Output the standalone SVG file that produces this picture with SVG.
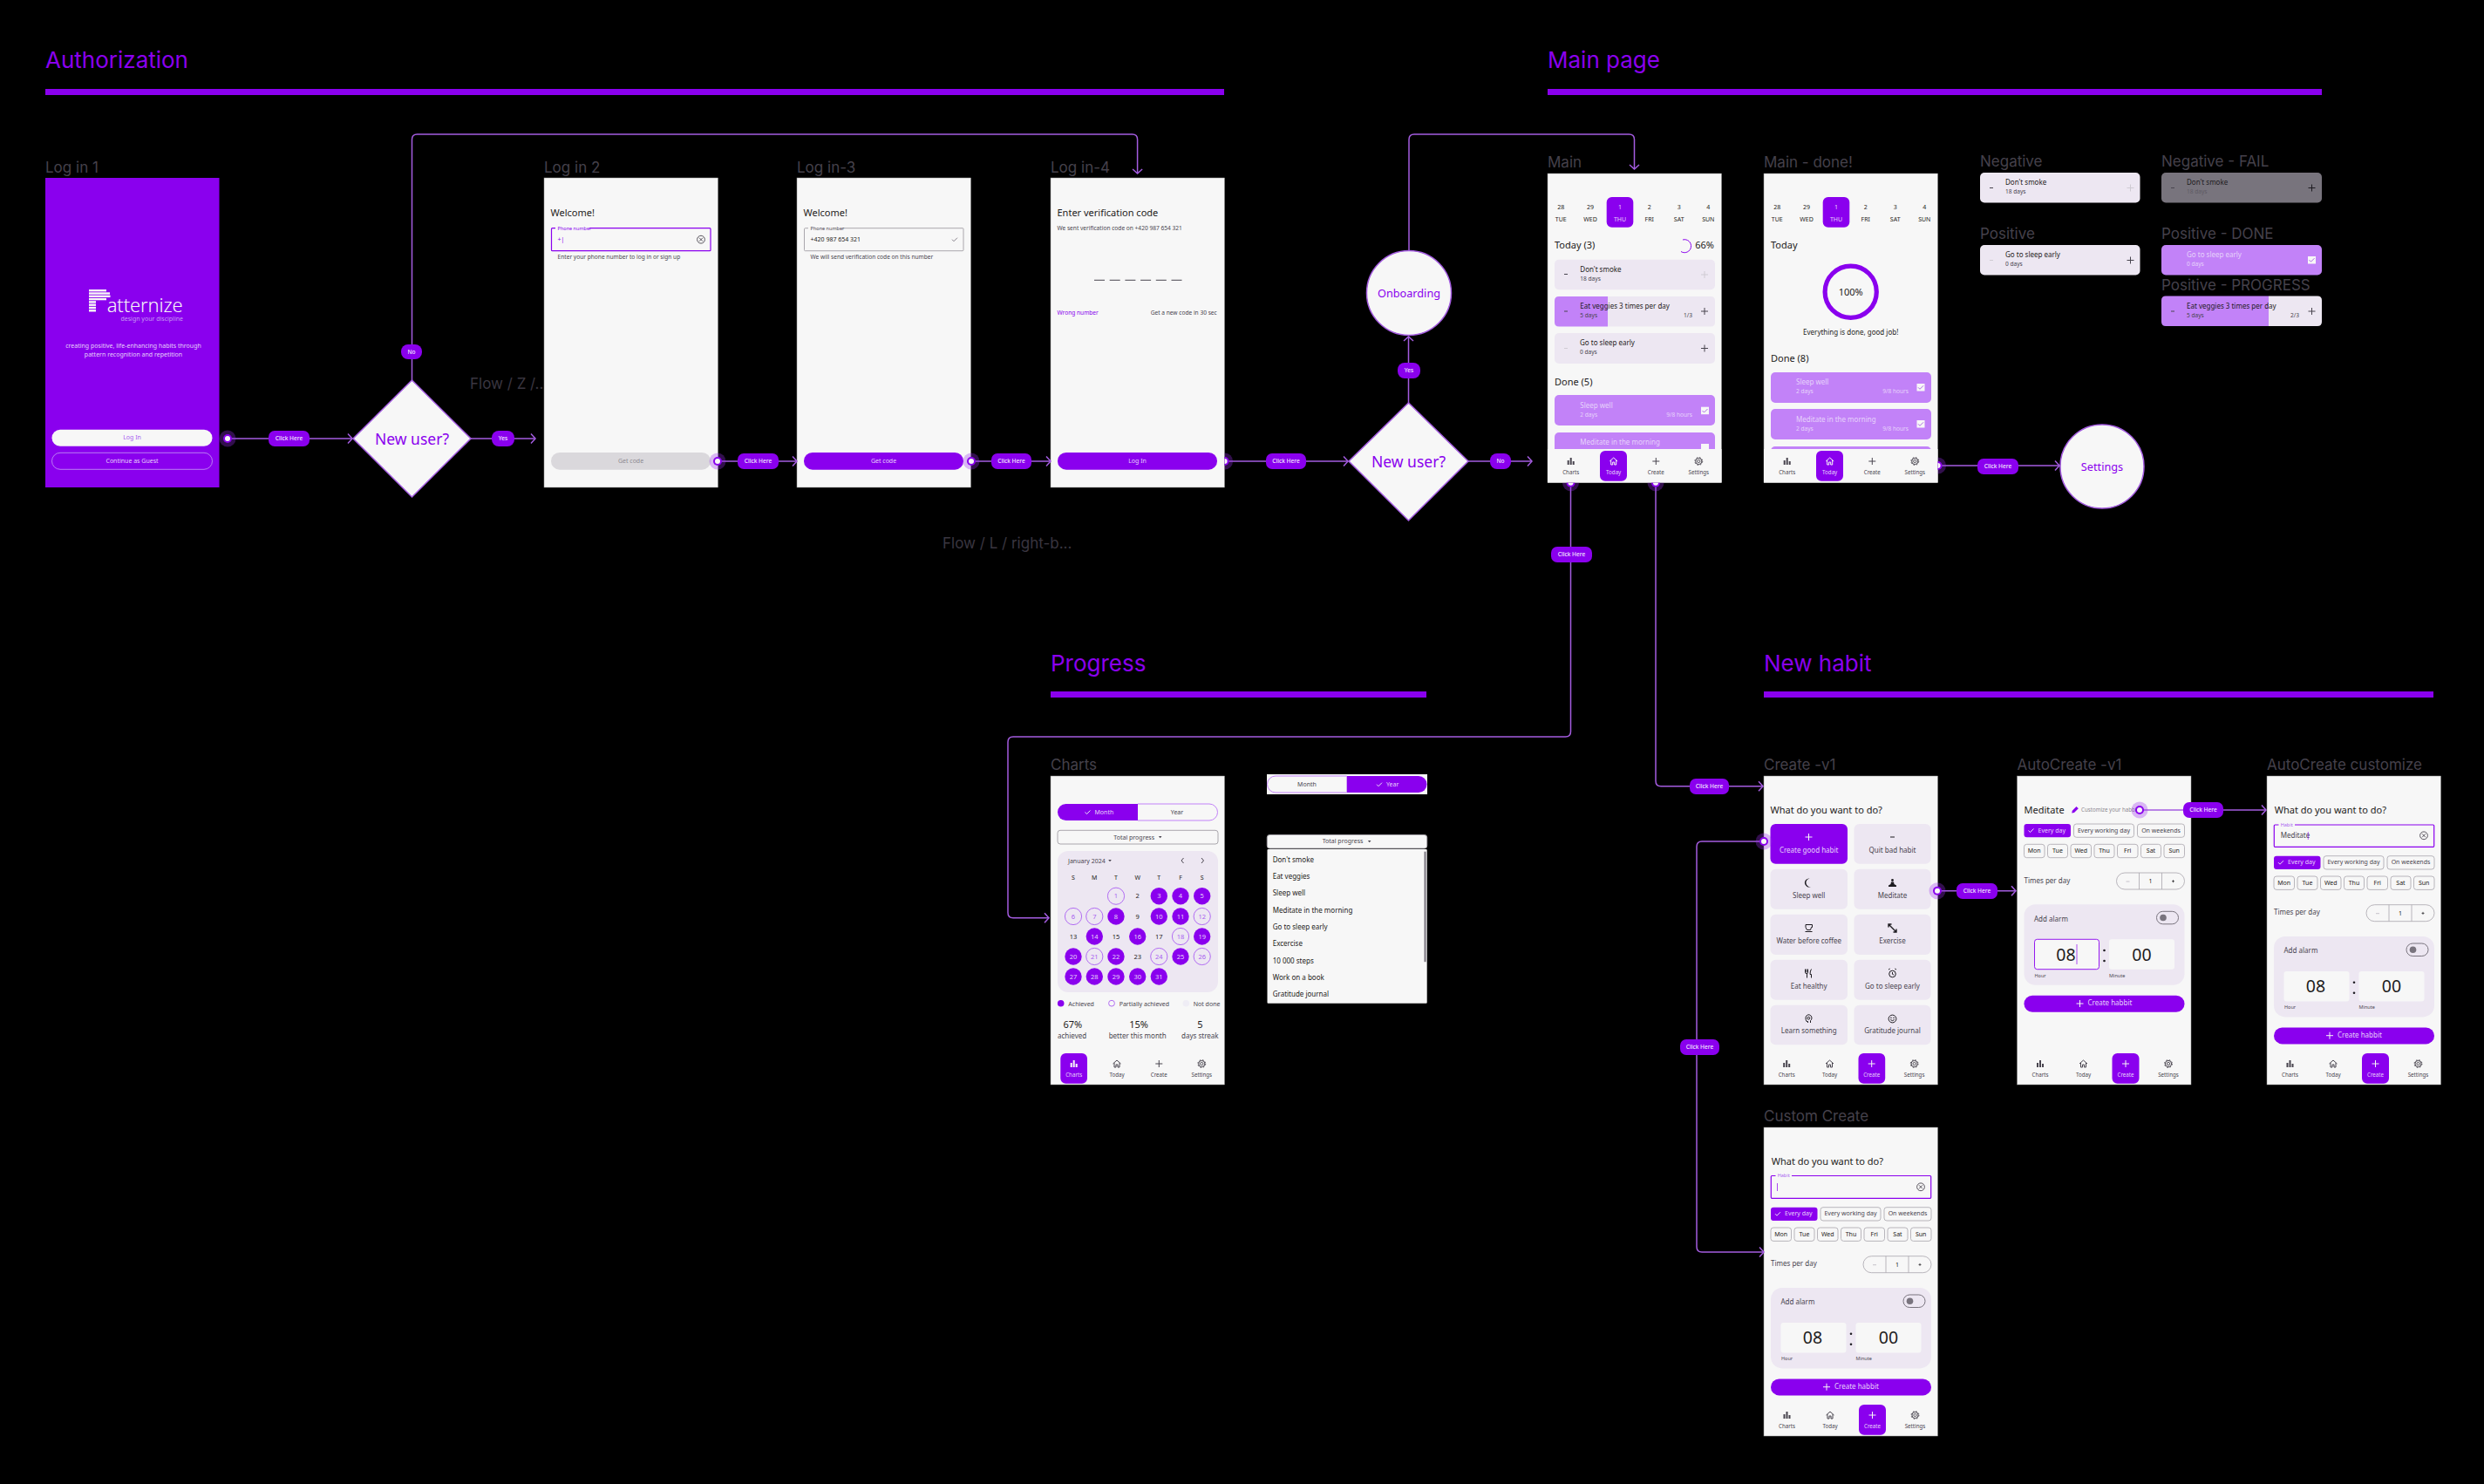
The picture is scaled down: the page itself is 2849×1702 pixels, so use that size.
<svg xmlns="http://www.w3.org/2000/svg" width="2849" height="1702" viewBox="0 0 2849 1702">
<style>
text{font-family:"Noto Sans","Liberation Sans",sans-serif;fill:#1d1b20}
.sec{font-family:Inter,"Liberation Sans",sans-serif;font-size:26px;fill:#8a00ee}
.bar{fill:#8a00ee}
.lbl{font-family:Inter,"Liberation Sans",sans-serif;font-size:17px;font-weight:400;fill:#45414b}
.frame{fill:#f7f7f7;stroke:#8f8f8f;stroke-width:.5}
.m{text-anchor:middle}.e{text-anchor:end}
.f5{font-size:5.5px}.f6{font-size:6.2px}.f65{font-size:6.6px}.f7{font-size:7px}.f75{font-size:7.5px}.f8{font-size:8px}.f10{font-size:11px}.f11{font-size:11px}.f19{font-size:19.5px}
.g{fill:#49454f}.lg{fill:#8d8991}.w{fill:#f7f7f7}.wp{fill:#e6d2fb}.p{fill:#8a00ee}.lp{fill:#a85ff0}
.sel{fill:#8a00ee}
.card{fill:#ede7f2}.done{fill:#c282f8}
.hl{stroke:#49454f;stroke-width:1;fill:none}
.inp{fill:none;stroke:#8a00ee;stroke-width:1.2}
.inpg{fill:none;stroke:#aaa7ad;stroke-width:1}
.chip{fill:none;stroke:#a8a4ac;stroke-width:.8}
.cf{fill:#8a00ee}.cp{fill:none;stroke:#b26df2;stroke-width:1}
.conn{fill:none;stroke:#a45ce0;stroke-width:1.5;marker-end:url(#arr)}
.pill{fill:#8a00ee}
.pt{font-size:6.6px;fill:#f3e8fe;text-anchor:middle;font-weight:500}
.dec{fill:#f7f7f7;stroke:#a45ce0;stroke-width:1.5}
.dect{fill:#8a00ee;text-anchor:middle}
.halo{fill:#9a30f0;opacity:.32}
.flow{font-family:Inter,"Liberation Sans",sans-serif;font-size:17px;font-weight:400;fill:#3a3640}
</style>
<defs>
<marker id="arr" markerUnits="userSpaceOnUse" markerWidth="14" markerHeight="14" refX="6.5" refY="7" orient="auto"><path d="M1.5 1.5L6.5 7L1.5 12.5" fill="none" stroke="#a45ce0" stroke-width="1.5"/></marker>
<g id="i-chart"><rect x="-4" y="-1" width="2" height="5" fill="currentColor"/><rect x="-1" y="-4" width="2" height="8" fill="currentColor"/><rect x="2" y="0" width="2" height="4" fill="currentColor"/></g>
<g id="i-home" fill="none" stroke="currentColor" stroke-width="1"><path d="M-4.5 0L0 -4L4.5 0M-3 -1V4H-1V1H1V4H3V-1"/></g>
<g id="i-plus" stroke="currentColor" stroke-width="1"><path d="M-4 0H4M0 -4V4" fill="none"/></g>
<g id="i-gear" fill="none" stroke="currentColor"><circle r="1.6" stroke-width=".9"/><circle r="3.6" stroke-width="1"/><circle r="4.4" stroke-width="1" stroke-dasharray="1.6 1.9"/></g>
<g id="i-clear" fill="none" stroke="#49454f" stroke-width=".9"><circle r="4.4"/><path d="M-2 -2L2 2M2 -2L-2 2"/></g>
<g id="i-check" fill="none" stroke="currentColor" stroke-width=".9"><path d="M-3 0L-1 2L3 -2"/></g>
<g id="i-moon"><path d="M1.5 -5A5 5 0 1 0 3 4.5A4.5 4.5 0 0 1 1.5 -5Z" fill="#1d1b20"/></g>
<g id="i-med" fill="#1d1b20"><circle cy="-3.5" r="1.4"/><path d="M-1.5 -1.5H1.5L2 1L4.5 2.5V4H-4.5V2.5L-2 1Z"/></g>
<g id="i-cup" fill="none" stroke="#1d1b20" stroke-width="1"><path d="M-3.5 -4H4V-1H3L2 2H-2L-3.5 -1ZM-4 4H4"/></g>
<g id="i-arrows" fill="none" stroke="#1d1b20" stroke-width="1.4"><path d="M-4 -4L4 4M-4.5 -1V-4.5H-1M4.5 1V4.5H1"/></g>
<g id="i-fork" fill="none" stroke="#1d1b20" stroke-width="1"><path d="M-4 -5V-1Q-4 0 -2.5 0H-2V5M-2.5 -5V-1M-1 -5V-1Q-1 0 -2 0M3 -5Q1.5 -3 1.5 1H3V5"/></g>
<g id="i-alarm" fill="none" stroke="#1d1b20" stroke-width="1"><circle cy=".5" r="3.8"/><path d="M0 -1.5V.8L1.5 1.6M-4.5 -4.5L-2.8 -5.5M4.5 -4.5L2.8 -5.5"/></g>
<g id="i-head" fill="none" stroke="#1d1b20" stroke-width="1"><path d="M-1 4.5V3H-2.5Q-3.5 1 -3.5 -.5A3.5 3.8 0 1 1 3 1L2 2V4.5"/><circle cx="-.2" cy="-.8" r="1.4"/></g>
<g id="i-smile" fill="none" stroke="#1d1b20" stroke-width="1"><circle r="4.4"/><path d="M-2.2 1Q0 3.2 2.2 1M-2.4 -1.2H-.8M.8 -1.2H2.4"/></g>
<g id="i-pencil"><path d="M-3.8 3.8L-3.2 1L1.5 -3.7L3.8 -1.4L-1 3.2Z" fill="#8a00ee"/></g>
<path id="i-tri" d="M-1.8 -1H1.8L0 1.2Z" fill="#49454f"/>
</defs>
<rect width="2849" height="1702" fill="#000"/>

<g id="sections">
<text class="sec" x="52" y="78">Authorization</text><rect class="bar" x="52" y="102" width="1352" height="7"/>
<text class="sec" x="1775" y="78">Main page</text><rect class="bar" x="1775" y="102" width="888" height="7"/>
<text class="sec" x="1205" y="770">Progress</text><rect class="bar" x="1205" y="793" width="431" height="7"/>
<text class="sec" x="2023" y="770">New habit</text><rect class="bar" x="2023" y="793" width="768" height="7"/>
<text class="flow" x="539" y="446">Flow / Z /...</text>
<text class="flow" x="1081" y="629">Flow / L / right-b...</text>
</g>

<g id="login-1" transform="translate(52,204)">
<text class="lbl" x="0" y="-6">Log in 1</text>
<rect width="199.5" height="355" fill="#8a00ee"/>
<g fill="#f7f7f7"><rect x="50" y="128" width="20" height="2.4"/><rect x="50" y="131.3" width="24" height="2.4"/><rect x="50" y="134.6" width="24.5" height="2.4"/><rect x="50" y="137.9" width="20" height="2.4"/><rect x="50" y="141.2" width="8" height="2.4"/><rect x="50" y="144.5" width="8" height="2.4"/><rect x="50" y="147.8" width="8" height="2.4"/><rect x="50" y="151.1" width="8" height="2.4"/></g>
<text x="70.7" y="153.7" font-size="22" font-weight="300" class="w" textLength="87">atternize</text>
<text x="158" y="164.3" class="f7 e" style="fill:#c69cf5">design your discipline</text>
<text x="101" y="195.3" class="f7 m wp">creating positive, life-enhancing habits through</text>
<text x="101" y="205" class="f7 m wp">pattern recognition and repetition</text>
<rect x="7.5" y="288.7" width="184" height="19" rx="9.5" fill="#f7f7f7"/>
<text x="99.5" y="300.4" class="f7 m lp">Log In</text>
<rect x="7.5" y="315.3" width="184" height="19" rx="9.5" fill="none" stroke="#c69cf5" stroke-width=".8"/>
<text x="99.5" y="327" class="f7 m wp">Continue as Guest</text>
</g>

<g id="decision-1"><path class="dec" d="M472.5 436L540 503L472.5 570L405 503Z"/><text class="dect" x="472.5" y="509.5" font-size="17.5">New user?</text></g>

<g id="login-2" transform="translate(624,204)">
<text class="lbl" x="0" y="-6">Log in 2</text>
<rect class="frame" width="199.5" height="355"/>
<text x="7.5" y="43.7" class="f10">Welcome!</text>
<path class="inp" d="M13 57.7H9.5Q8.5 57.7 8.5 58.7V82.7Q8.5 83.7 9.5 83.7H190Q191 83.7 191 82.7V58.7Q191 57.7 190 57.7H52"/>
<text x="15.6" y="59.7" class="f5 p">Phone number</text>
<text x="15.6" y="73" class="f7 p">+|</text>
<use href="#i-clear" x="180" y="70.7"/>
<text x="15.6" y="93.3" class="f65 g">Enter your phone number to log in or sign up</text>
<rect x="8" y="315" width="183" height="19.7" rx="9.8" fill="#dad8dc"/>
<text x="99.5" y="327.3" class="f7 m lg">Get code</text>
</g>

<g id="login-3" transform="translate(914,204)">
<text class="lbl" x="0" y="-6">Log in-3</text>
<rect class="frame" width="199.5" height="355"/>
<text x="7.5" y="43.7" class="f10">Welcome!</text>
<path class="inpg" d="M13 57.7H9.5Q8.5 57.7 8.5 58.7V82.7Q8.5 83.7 9.5 83.7H190Q191 83.7 191 82.7V58.7Q191 57.7 190 57.7H52"/>
<text x="15.6" y="59.7" class="f5 g">Phone number</text>
<text x="15.6" y="73" class="f7">+420 987 654 321</text>
<use href="#i-check" x="181" y="70.7" color="#79747e"/>
<text x="15.6" y="93.3" class="f65 g">We will send verification code on this number</text>
<rect x="8" y="315" width="183" height="19.7" rx="9.8" class="sel"/>
<text x="99.5" y="327.3" class="f7 m wp">Get code</text>
</g>

<g id="login-4" transform="translate(1205,204)">
<text class="lbl" x="0" y="-6">Log in-4</text>
<rect class="frame" width="199.5" height="355"/>
<text x="7.5" y="43.7" class="f10">Enter verification code</text>
<text x="7.5" y="60.3" class="f65 g">We sent verification code on +420 987 654 321</text>
<path d="M50 117.3h12M67.7 117.3h12M85.4 117.3h12M103.1 117.3h12M120.8 117.3h12M138.5 117.3h12" stroke="#49454f" stroke-width="1"/>
<text x="7.5" y="156.7" class="f65 p">Wrong number</text>
<text x="190.7" y="156.7" class="f65 e g">Get a new code in 30 sec</text>
<rect x="8" y="315" width="183" height="19.7" rx="9.8" class="sel"/>
<text x="99.5" y="327.3" class="f7 m wp">Log In</text>
</g>

<g id="decision-2"><path class="dec" d="M1615.5 462L1684 529L1615.5 597L1547 529Z"/><text class="dect" x="1615.5" y="535.5" font-size="17.5">New user?</text></g>
<g id="onboarding"><circle class="dec" cx="1616" cy="336" r="48.5"/><text class="dect" x="1616" y="341" font-size="12.7">Onboarding</text></g>
<g id="settings"><circle class="dec" cx="2411" cy="535" r="48"/><text class="dect" x="2411" y="540" font-size="12.7">Settings</text></g>

<g id="main" transform="translate(1775,199)">
<text class="lbl" x="0" y="-7">Main</text>
<rect class="frame" width="199.5" height="354.5"/>
<rect class="sel" x="67.7" y="27" width="30.6" height="34.7" rx="6"/>
<g class="f7 m"><text x="15.3" y="41">28</text><text x="15.3" y="54.7">TUE</text><text x="49" y="41">29</text><text x="49" y="54.7">WED</text><text x="83" y="41" class="wp">1</text><text x="83" y="54.7" class="wp">THU</text><text x="116.7" y="41">2</text><text x="116.7" y="54.7">FRI</text><text x="150.7" y="41">3</text><text x="150.7" y="54.7">SAT</text><text x="184.3" y="41">4</text><text x="184.3" y="54.7">SUN</text></g>
<text x="8" y="86" class="f10">Today (3)</text>
<path d="M155 76A7.5 7.5 0 1 1 153 89.5" fill="none" stroke="#8a00ee" stroke-width="1"/>
<text x="191" y="86" class="f10 e">66%</text>
<rect class="card" x="8" y="98.7" width="184" height="34.5" rx="5"/>
<text x="37.3" y="112.7" class="f8">Don't smoke</text><text x="37.3" y="122.5" class="f65 g">18 days</text>
<path class="hl" d="M19 115.5h4" stroke-width="1.2"/><use href="#i-plus" x="180" y="116" color="#cfcbd3"/>
<path class="done" d="M13 141H69V175.5H13Q8 175.5 8 170.5V146Q8 141 13 141Z"/>
<path class="card" d="M69 141H187Q192 141 192 146V170.5Q192 175.5 187 175.5H69Z"/>
<text x="37.3" y="155" class="f8">Eat veggies 3 times per day</text><text x="37.3" y="165" class="f65 g">5 days</text><text x="166" y="165" class="f65 e g">1/3</text>
<path class="hl" d="M19 158h4"/><use href="#i-plus" x="180" y="158"  color="#49454f"/>
<rect class="card" x="8" y="183" width="184" height="35" rx="5"/>
<text x="37" y="197" class="f8">Go to sleep early</text><text x="37" y="207" class="f65 g">0 days</text>
<path d="M19 200.5h4" stroke="#cfcbd3"/><use href="#i-plus" x="180" y="200.5" color="#49454f"/>
<text x="8" y="243" class="f10">Done (5)</text>
<rect class="done" x="8" y="254" width="184" height="35" rx="5"/>
<text x="37.3" y="268.5" class="f8 wp">Sleep well</text><text x="37.3" y="278.5" class="f65 wp">2 days</text><text x="166" y="278.5" class="f65 e wp">9/8 hours</text>
<rect x="176" y="267.7" width="9" height="8.5" fill="#f7f7f7"/><use href="#i-check" x="180.5" y="272" color="#a45ce0"/>
<rect class="done" x="8" y="297" width="184" height="35" rx="5"/>
<text x="37.3" y="311" class="f8 wp">Meditate in the morning</text>
<rect x="176" y="310" width="9" height="8.5" fill="#f7f7f7"/>
<rect x="0" y="316" width="199.5" height="38.5" fill="#f7f7f7"/>
<rect class="sel" x="60" y="318" width="31" height="34.7" rx="6"/>
<use href="#i-chart" x="26.7" y="330" color="#49454f"/><use href="#i-home" x="75.7" y="330" color="#f7f7f7"/><use href="#i-plus" x="124.3" y="330" color="#49454f"/><use href="#i-gear" x="173.3" y="330" color="#49454f"/>
<g class="f6 m"><text x="26.7" y="344.7" class="g">Charts</text><text x="75.7" y="344.7" class="wp">Today</text><text x="124.3" y="344.7" class="g">Create</text><text x="173.3" y="344.7" class="g">Settings</text></g>
</g>

<g id="main-done" transform="translate(2023,199)">
<text class="lbl" x="0" y="-7">Main - done!</text>
<rect class="frame" width="199.5" height="354.5"/>
<rect class="sel" x="67.7" y="27" width="30.6" height="34.7" rx="6"/>
<g class="f7 m"><text x="15.3" y="41">28</text><text x="15.3" y="54.7">TUE</text><text x="49" y="41">29</text><text x="49" y="54.7">WED</text><text x="83" y="41" class="wp">1</text><text x="83" y="54.7" class="wp">THU</text><text x="116.7" y="41">2</text><text x="116.7" y="54.7">FRI</text><text x="150.7" y="41">3</text><text x="150.7" y="54.7">SAT</text><text x="184.3" y="41">4</text><text x="184.3" y="54.7">SUN</text></g>
<text x="8" y="86" class="f10">Today</text>
<circle cx="99.7" cy="135.7" r="29.6" fill="none" stroke="#8a00ee" stroke-width="5.2"/>
<text x="99.7" y="139.5" class="f10 m">100%</text>
<text x="99.7" y="185" class="f8 m">Everything is done, good job!</text>
<text x="8" y="216" class="f10">Done (8)</text>
<rect class="done" x="8" y="228" width="184" height="35" rx="5"/>
<text x="37" y="242" class="f8 wp">Sleep well</text><text x="37" y="252" class="f65 wp">2 days</text><text x="166" y="252" class="f65 e wp">9/8 hours</text>
<rect x="175.5" y="241" width="9" height="8.5" fill="#f7f7f7"/><use href="#i-check" x="180" y="245.3" color="#a45ce0"/>
<rect class="done" x="8" y="270" width="184" height="35" rx="5"/>
<text x="37" y="285" class="f8 wp">Meditate in the morning</text><text x="37" y="295" class="f65 wp">2 days</text><text x="166" y="295" class="f65 e wp">9/8 hours</text>
<rect x="175.5" y="283" width="9" height="8.5" fill="#f7f7f7"/><use href="#i-check" x="180" y="287.3" color="#a45ce0"/>
<rect class="done" x="8" y="313" width="184" height="20" rx="5"/>
<rect x="0" y="316" width="199.5" height="38.5" fill="#f7f7f7"/>
<rect class="sel" x="60" y="318" width="31" height="34.7" rx="6"/>
<use href="#i-chart" x="26.7" y="330" color="#49454f"/><use href="#i-home" x="75.7" y="330" color="#f7f7f7"/><use href="#i-plus" x="124.3" y="330" color="#49454f"/><use href="#i-gear" x="173.3" y="330" color="#49454f"/>
<g class="f6 m"><text x="26.7" y="344.7" class="g">Charts</text><text x="75.7" y="344.7" class="wp">Today</text><text x="124.3" y="344.7" class="g">Create</text><text x="173.3" y="344.7" class="g">Settings</text></g>
</g>

<g id="card-negative" transform="translate(2271,198)">
<text class="lbl" x="0" y="-7">Negative</text>
<rect class="card" width="183.5" height="34.5" rx="5"/>
<text x="29" y="14" class="f8">Don't smoke</text><text x="29" y="24" class="f65 g">18 days</text>
<path class="hl" d="M11 17.5h4"/><use href="#i-plus" x="172.5" y="17.5" color="#cfcbd3"/>
</g>
<g id="card-negative-fail" transform="translate(2479,198)">
<text class="lbl" x="0" y="-7">Negative - FAIL</text>
<rect width="184" height="34.5" rx="5" fill="#78747d"/>
<text x="29" y="14" class="f8">Don't smoke</text><text x="29" y="24" class="f65" style="fill:#5f5b64">18 days</text>
<path class="hl" d="M11 17.5h4"/><use href="#i-plus" x="172.5" y="17.5" color="#1d1b20"/>
</g>
<g id="card-positive" transform="translate(2271,281)">
<text class="lbl" x="0" y="-7">Positive</text>
<rect class="card" width="183.5" height="34.5" rx="5"/>
<text x="29" y="14" class="f8">Go to sleep early</text><text x="29" y="24" class="f65 g">0 days</text>
<path d="M11 17.5h4" stroke="#cfcbd3"/><use href="#i-plus" x="172.5" y="17.5" color="#49454f"/>
</g>
<g id="card-positive-done" transform="translate(2479,281)">
<text class="lbl" x="0" y="-7">Positive - DONE</text>
<rect class="done" width="184" height="34.5" rx="5"/>
<text x="29" y="14" class="f8 wp">Go to sleep early</text><text x="29" y="24" class="f65 wp">0 days</text>
<rect x="168" y="13" width="9" height="8.5" fill="#f7f7f7"/><use href="#i-check" x="172.5" y="17.2" color="#a45ce0"/>
</g>
<g id="card-positive-progress" transform="translate(2479,339.5)">
<text class="lbl" x="0" y="-7">Positive - PROGRESS</text>
<path class="done" d="M5 0H123V34.5H5Q0 34.5 0 29.5V5Q0 0 5 0Z"/>
<path class="card" d="M123 0H179Q184 0 184 5V29.5Q184 34.5 179 34.5H123Z"/>
<text x="29" y="14" class="f8">Eat veggies 3 times per day</text><text x="29" y="24" class="f65 g">5 days</text><text x="158" y="24" class="f65 e g">2/3</text>
<path class="hl" d="M11 17.5h4"/><use href="#i-plus" x="172.5" y="17.5" color="#49454f"/>
</g>

<g id="charts" transform="translate(1205,890)">
<text class="lbl" x="0" y="-7">Charts</text>
<rect class="frame" width="199.5" height="354"/>
<path class="sel" d="M100 32V51H17.5A9.5 9.5 0 0 1 17.5 32Z"/>
<path d="M100 32H182A9.5 9.5 0 0 1 182 51H100" fill="none" stroke="#c282f8"/>
<use href="#i-check" x="42.5" y="41.5" color="#f7f7f7"/>
<text x="50.5" y="43.7" class="f7 wp">Month</text><text x="145" y="43.7" class="f7 m g">Year</text>
<rect class="inpg" x="8" y="62.3" width="184" height="15.7" rx="3"/>
<text x="95.7" y="72.8" class="f7 m g">Total progress</text><use href="#i-tri" x="125.7" y="70"/>
<rect class="card" x="8" y="86" width="184" height="162" rx="12"/>
<text x="20" y="99.5" class="f7 g">January 2024</text><use href="#i-tri" x="68" y="97"/>
<path class="hl" d="M152.5 94L150 97L152.5 100M173 94L175.5 97L173 100"/>
<g class="f7 m g"><text x="26" y="119.3">S</text><text x="50.3" y="119.3">M</text><text x="75" y="119.3">T</text><text x="99.7" y="119.3">W</text><text x="124.3" y="119.3">T</text><text x="149" y="119.3">F</text><text x="173.7" y="119.3">S</text></g>
<circle class="cp" cx="75" cy="137.7" r="9.6"/><circle class="cf" cx="124.3" cy="137.7" r="9.7"/><circle class="cf" cx="149" cy="137.7" r="9.7"/><circle class="cf" cx="173.7" cy="137.7" r="9.7"/>
<circle class="cp" cx="26" cy="161" r="9.6"/><circle class="cp" cx="50.3" cy="161" r="9.6"/><circle class="cf" cx="75" cy="161" r="9.7"/><circle class="cf" cx="124.3" cy="161" r="9.7"/><circle class="cf" cx="149" cy="161" r="9.7"/><circle class="cp" cx="173.7" cy="161" r="9.6"/>
<circle class="cf" cx="50.3" cy="184" r="9.7"/><circle class="cf" cx="99.7" cy="184" r="9.7"/><circle class="cp" cx="149" cy="184" r="9.6"/><circle class="cf" cx="173.7" cy="184" r="9.7"/>
<circle class="cf" cx="26" cy="207" r="9.7"/><circle class="cp" cx="50.3" cy="207" r="9.6"/><circle class="cf" cx="75" cy="207" r="9.7"/><circle class="cp" cx="124.3" cy="207" r="9.6"/><circle class="cf" cx="149" cy="207" r="9.7"/><circle class="cp" cx="173.7" cy="207" r="9.6"/>
<circle class="cf" cx="26" cy="230" r="9.7"/><circle class="cf" cx="50.3" cy="230" r="9.7"/><circle class="cf" cx="75" cy="230" r="9.7"/><circle class="cf" cx="99.7" cy="230" r="9.7"/><circle class="cf" cx="124.3" cy="230" r="9.7"/>
<g class="f75 m">
<text x="75" y="140.4" class="lp">1</text><text x="99.7" y="140.4">2</text><text x="124.3" y="140.4" class="wp">3</text><text x="149" y="140.4" class="wp">4</text><text x="173.7" y="140.4" class="wp">5</text>
<text x="26" y="163.7" class="lp">6</text><text x="50.3" y="163.7" class="lp">7</text><text x="75" y="163.7" class="wp">8</text><text x="99.7" y="163.7">9</text><text x="124.3" y="163.7" class="wp">10</text><text x="149" y="163.7" class="wp">11</text><text x="173.7" y="163.7" class="lp">12</text>
<text x="26" y="186.7">13</text><text x="50.3" y="186.7" class="wp">14</text><text x="75" y="186.7">15</text><text x="99.7" y="186.7" class="wp">16</text><text x="124.3" y="186.7">17</text><text x="149" y="186.7" class="lp">18</text><text x="173.7" y="186.7" class="wp">19</text>
<text x="26" y="209.7" class="wp">20</text><text x="50.3" y="209.7" class="lp">21</text><text x="75" y="209.7" class="wp">22</text><text x="99.7" y="209.7">23</text><text x="124.3" y="209.7" class="lp">24</text><text x="149" y="209.7" class="wp">25</text><text x="173.7" y="209.7" class="lp">26</text>
<text x="26" y="232.7" class="wp">27</text><text x="50.3" y="232.7" class="wp">28</text><text x="75" y="232.7" class="wp">29</text><text x="99.7" y="232.7" class="wp">30</text><text x="124.3" y="232.7" class="wp">31</text>
</g>
<circle cx="11.7" cy="260.7" r="3.8" class="cf"/><text x="20.3" y="263.5" class="f7 g">Achieved</text>
<circle cx="70" cy="260.7" r="3.4" class="cp"/><text x="78.7" y="263.5" class="f7 g">Partially achieved</text>
<circle cx="155.3" cy="260.7" r="3.8" fill="#efedf5"/><text x="163.7" y="263.5" class="f7 g">Not done</text>
<text x="25.3" y="289.3" class="f11 m">67%</text><text x="8" y="301" class="f8 g">achieved</text>
<text x="101" y="289.3" class="f11 m">15%</text><text x="99.7" y="301" class="f8 m g">better this month</text>
<text x="171.3" y="289.3" class="f11 m">5</text><text x="171.3" y="301" class="f8 m g">days streak</text>
<rect class="sel" x="11.3" y="318" width="30.7" height="34.7" rx="6"/>
<use href="#i-chart" x="26.7" y="330" color="#f7f7f7"/><use href="#i-home" x="76" y="330" color="#49454f"/><use href="#i-plus" x="124.3" y="330" color="#49454f"/><use href="#i-gear" x="173.3" y="330" color="#49454f"/>
<g class="f6 m"><text x="26.7" y="344.7" class="wp">Charts</text><text x="76" y="344.7" class="g">Today</text><text x="124.3" y="344.7" class="g">Create</text><text x="173.3" y="344.7" class="g">Settings</text></g>
</g>

<g id="segment-year">
<rect x="1453" y="888" width="184" height="23" fill="#f7f7f7"/>
<path class="sel" d="M1544.7 890H1627A9.5 9.5 0 0 1 1627 909H1544.7Z"/>
<path d="M1544.7 890H1463A9.5 9.5 0 0 0 1463 909H1544.7" fill="none" stroke="#c282f8"/>
<text x="1499" y="901.7" class="f7 m g">Month</text>
<use href="#i-check" x="1582" y="899.7" color="#f7f7f7"/><text x="1590" y="901.7" class="f7 wp">Year</text>
</g>

<g id="dropdown">
<rect x="1453.3" y="957.5" width="183.4" height="15.5" rx="3" fill="#f7f7f7" stroke="#aaa7ad"/>
<text x="1540" y="967" class="f7 m g">Total progress</text><use href="#i-tri" x="1570.7" y="965"/>
<rect x="1453.5" y="974" width="183.2" height="176.7" rx="1" fill="#f7f7f7"/>
<g class="f8 g"><text x="1459.7" y="988.7">Don't smoke</text><text x="1459.7" y="1008">Eat veggies</text><text x="1459.7" y="1027.3">Sleep well</text><text x="1459.7" y="1046.7">Meditate in the morning</text><text x="1459.7" y="1066">Go to sleep early</text><text x="1459.7" y="1085.3">Excercise</text><text x="1459.7" y="1104.7">10 000 steps</text><text x="1459.7" y="1123.7">Work on a book</text><text x="1459.7" y="1143">Gratitude journal</text></g>
<rect x="1633.5" y="976.7" width="2" height="126.5" fill="#79747e"/>
</g>

<g id="create" transform="translate(2023,890)">
<text class="lbl" x="0" y="-7">Create -v1</text>
<rect class="frame" width="199.5" height="354"/>
<text x="7.5" y="43.3" class="f10">What do you want to do?</text>
<rect class="sel" x="7.5" y="55" width="88.5" height="45.7" rx="6"/><rect class="card" x="103.5" y="55" width="88" height="45.7" rx="6"/>
<rect class="card" x="7.5" y="106.7" width="88.5" height="46" rx="6"/><rect class="card" x="103.5" y="106.7" width="88" height="46" rx="6"/>
<rect class="card" x="7.5" y="158.7" width="88.5" height="46.3" rx="6"/><rect class="card" x="103.5" y="158.7" width="88" height="46.3" rx="6"/>
<rect class="card" x="7.5" y="210.7" width="88.5" height="46" rx="6"/><rect class="card" x="103.5" y="210.7" width="88" height="46" rx="6"/>
<rect class="card" x="7.5" y="262.7" width="88.5" height="45.6" rx="6"/><rect class="card" x="103.5" y="262.7" width="88" height="45.6" rx="6"/>
<use href="#i-plus" x="51.5" y="70" color="#f7f7f7"/><path d="M145 70h5" stroke="#1d1b20" stroke-width="1"/>
<use href="#i-moon" x="51" y="122.5"/><use href="#i-med" x="147.5" y="123"/>
<use href="#i-cup" x="51.5" y="174.5"/><use href="#i-arrows" x="147.5" y="174.5"/>
<use href="#i-fork" x="51.5" y="226.5"/><use href="#i-alarm" x="147.5" y="226.5"/>
<use href="#i-head" x="51.5" y="278.5"/><use href="#i-smile" x="147.5" y="278.5"/>
<g class="f8 m"><text x="51.7" y="87.7" class="wp">Create good habit</text><text x="147.5" y="87.7" class="g">Quit bad habit</text>
<text x="51.7" y="139.7" class="g">Sleep well</text><text x="147.5" y="139.7" class="g">Meditate</text>
<text x="51.7" y="191.7" class="g">Water before coffee</text><text x="147.5" y="191.7" class="g">Exercise</text>
<text x="51.7" y="243.7" class="g">Eat healthy</text><text x="147.5" y="243.7" class="g">Go to sleep early</text>
<text x="51.7" y="295.3" class="g">Learn something</text><text x="147.5" y="295.3" class="g">Gratitude journal</text></g>
<rect class="sel" x="108.5" y="318" width="30.7" height="34.7" rx="6"/>
<use href="#i-chart" x="26.2" y="330" color="#49454f"/><use href="#i-home" x="75.5" y="330" color="#49454f"/><use href="#i-plus" x="123.7" y="330" color="#f7f7f7"/><use href="#i-gear" x="172.6" y="330" color="#49454f"/>
<g class="f6 m"><text x="26.2" y="344.7" class="g">Charts</text><text x="75.5" y="344.7" class="g">Today</text><text x="123.7" y="344.7" class="wp">Create</text><text x="172.6" y="344.7" class="g">Settings</text></g>
</g>

<g id="autocreate" transform="translate(2313.5,890)">
<text class="lbl" x="0" y="-7">AutoCreate -v1</text>
<rect class="frame" width="199.5" height="354"/>
<text x="8" y="43.3" class="f10">Meditate</text>
<use href="#i-pencil" x="66.5" y="38.7"/><text x="73.5" y="40.7" class="f6 lg">Customize your habbit</text>
<rect class="sel" x="8" y="55" width="53.5" height="15.3" rx="3"/><use href="#i-check" x="16" y="62.5" color="#f7f7f7"/><text x="24" y="64.7" class="f7 wp">Every day</text>
<rect class="chip" x="65" y="55" width="69" height="15.3" rx="3"/><text x="99.5" y="64.7" class="f7 m g">Every working day</text>
<rect class="chip" x="138" y="55" width="54" height="15.3" rx="3"/><text x="165" y="64.7" class="f7 m g">On weekends</text>
<g class="chip"><rect x="8" y="78.3" width="23.5" height="15.4" rx="3"/><rect x="35" y="78.3" width="23" height="15.4" rx="3"/><rect x="61.5" y="78.3" width="23.5" height="15.4" rx="3"/><rect x="88.5" y="78.3" width="23" height="15.4" rx="3"/><rect x="115" y="78.3" width="23.5" height="15.4" rx="3"/><rect x="142" y="78.3" width="23" height="15.4" rx="3"/><rect x="168.5" y="78.3" width="23.5" height="15.4" rx="3"/></g>
<g class="f7 m g"><text x="19.7" y="88">Mon</text><text x="46.5" y="88">Tue</text><text x="73.2" y="88">Wed</text><text x="100" y="88">Thu</text><text x="126.7" y="88">Fri</text><text x="153.5" y="88">Sat</text><text x="180.2" y="88">Sun</text></g>
<text x="8" y="122.7" class="f8 g">Times per day</text>
<rect class="chip" x="114" y="111" width="78" height="19" rx="9.5"/><path d="M140 111V130M166 111V130" stroke="#a8a4ac" stroke-width=".8"/>
<path d="M125 121h4" stroke="#c6c2ca"/><text x="153" y="123.2" class="f7 m">1</text><path d="M177.5 120.7h3M179 119.2v3" stroke="#1d1b20" stroke-width=".7"/>
<rect class="card" x="8" y="147.3" width="184" height="92.4" rx="13"/>
<text x="19.5" y="166.7" class="f8 g">Add alarm</text>
<rect x="160" y="155.3" width="25" height="14.5" rx="7.2" fill="#ede7f2" stroke="#79747e"/><circle cx="167.5" cy="162.5" r="3.8" fill="#79747e"/>
<rect x="20" y="187.3" width="74" height="34.4" rx="3" fill="#f7f7f7" stroke="#8a00ee" stroke-width=".9"/>
<text x="56" y="211.7" class="f19 m">08</text><path d="M68.5 193V216" stroke="#8a00ee" stroke-width=".7"/>
<circle cx="100" cy="200" r="1.3" fill="#1d1b20"/><circle cx="100" cy="212" r="1.3" fill="#1d1b20"/>
<rect x="105.5" y="187.3" width="75" height="34.4" rx="3" fill="#f7f7f7"/><text x="143" y="211.7" class="f19 m">00</text>
<text x="20" y="230.7" class="f5 g">Hour</text><text x="105.5" y="230.7" class="f5 g">Minute</text>
<rect class="sel" x="8" y="251.7" width="184" height="19" rx="9.5"/><use href="#i-plus" x="72" y="261" color="#f7f7f7"/><text x="81" y="263.4" class="f8 wp">Create habbit</text>
<rect class="sel" x="109" y="318" width="31" height="34.7" rx="6"/>
<use href="#i-chart" x="26.5" y="330" color="#49454f"/><use href="#i-home" x="76" y="330" color="#49454f"/><use href="#i-plus" x="124.5" y="330" color="#f7f7f7"/><use href="#i-gear" x="173.5" y="330" color="#49454f"/>
<g class="f6 m"><text x="26.5" y="344.7" class="g">Charts</text><text x="76" y="344.7" class="g">Today</text><text x="124.5" y="344.7" class="wp">Create</text><text x="173.5" y="344.7" class="g">Settings</text></g>
</g>

<g id="autocreate-customize" transform="translate(2600,890)">
<text class="lbl" x="0" y="-7">AutoCreate customize</text>
<rect class="frame" width="199.5" height="354"/>
<text x="8.7" y="43.3" class="f10">What do you want to do?</text>
<path class="inp" d="M13.5 56H9.3Q8.3 56 8.3 57V80.3Q8.3 81.3 9.3 81.3H190.7Q191.7 81.3 191.7 80.3V57Q191.7 56 190.7 56H32"/>
<text x="15.7" y="57.8" class="f5 lp">Habit</text>
<text x="15.7" y="70.7" class="f8 g">Meditate</text><path d="M47.3 64V73" stroke="#8a00ee" stroke-width=".6"/>
<use href="#i-clear" x="180" y="68.3"/>
<g transform="translate(0,36.7)">
<rect class="sel" x="8" y="55" width="53.5" height="15.3" rx="3"/><use href="#i-check" x="16" y="62.5" color="#f7f7f7"/><text x="24" y="64.7" class="f7 wp">Every day</text>
<rect class="chip" x="65" y="55" width="69" height="15.3" rx="3"/><text x="99.5" y="64.7" class="f7 m g">Every working day</text>
<rect class="chip" x="138" y="55" width="54" height="15.3" rx="3"/><text x="165" y="64.7" class="f7 m g">On weekends</text>
<g class="chip"><rect x="8" y="78.3" width="23.5" height="15.4" rx="3"/><rect x="35" y="78.3" width="23" height="15.4" rx="3"/><rect x="61.5" y="78.3" width="23.5" height="15.4" rx="3"/><rect x="88.5" y="78.3" width="23" height="15.4" rx="3"/><rect x="115" y="78.3" width="23.5" height="15.4" rx="3"/><rect x="142" y="78.3" width="23" height="15.4" rx="3"/><rect x="168.5" y="78.3" width="23.5" height="15.4" rx="3"/></g>
<g class="f7 m g"><text x="19.7" y="88">Mon</text><text x="46.5" y="88">Tue</text><text x="73.2" y="88">Wed</text><text x="100" y="88">Thu</text><text x="126.7" y="88">Fri</text><text x="153.5" y="88">Sat</text><text x="180.2" y="88">Sun</text></g>
<text x="8" y="122.7" class="f8 g">Times per day</text>
<rect class="chip" x="114" y="111" width="78" height="19" rx="9.5"/><path d="M140 111V130M166 111V130" stroke="#a8a4ac" stroke-width=".8"/>
<path d="M125 121h4" stroke="#c6c2ca"/><text x="153" y="123.2" class="f7 m">1</text><path d="M177.5 120.7h3M179 119.2v3" stroke="#1d1b20" stroke-width=".7"/>
<rect class="card" x="8" y="147.3" width="184" height="92.4" rx="13"/>
<text x="19.5" y="166.7" class="f8 g">Add alarm</text>
<rect x="160" y="155.3" width="25" height="14.5" rx="7.2" fill="#ede7f2" stroke="#79747e"/><circle cx="167.5" cy="162.5" r="3.8" fill="#79747e"/>
<rect x="19.5" y="187.3" width="75" height="34.4" rx="3" fill="#f7f7f7"/>
<text x="56" y="211.7" class="f19 m">08</text>
<circle cx="100" cy="200" r="1.3" fill="#1d1b20"/><circle cx="100" cy="212" r="1.3" fill="#1d1b20"/>
<rect x="105.5" y="187.3" width="75" height="34.4" rx="3" fill="#f7f7f7"/><text x="143" y="211.7" class="f19 m">00</text>
<text x="20" y="230.7" class="f5 g">Hour</text><text x="105.5" y="230.7" class="f5 g">Minute</text>
<rect class="sel" x="8" y="251.7" width="184" height="19" rx="9.5"/><use href="#i-plus" x="72" y="261" color="#f7f7f7"/><text x="81" y="263.4" class="f8 wp">Create habbit</text>
</g>
<rect class="sel" x="109" y="318" width="31" height="34.7" rx="6"/>
<use href="#i-chart" x="26.5" y="330" color="#49454f"/><use href="#i-home" x="76" y="330" color="#49454f"/><use href="#i-plus" x="124.5" y="330" color="#f7f7f7"/><use href="#i-gear" x="173.5" y="330" color="#49454f"/>
<g class="f6 m"><text x="26.5" y="344.7" class="g">Charts</text><text x="76" y="344.7" class="g">Today</text><text x="124.5" y="344.7" class="wp">Create</text><text x="173.5" y="344.7" class="g">Settings</text></g>
</g>

<g id="custom-create" transform="translate(2023,1293)">
<text class="lbl" x="0" y="-7">Custom Create</text>
<rect class="frame" width="199.5" height="354"/>
<text x="8.7" y="43.3" class="f10">What do you want to do?</text>
<path class="inp" d="M13.5 55.5H9.3Q8.3 55.5 8.3 56.5V80.3Q8.3 81.3 9.3 81.3H190.7Q191.7 81.3 191.7 80.3V56.5Q191.7 55.5 190.7 55.5H32"/>
<text x="15.7" y="57.3" class="f5 lp">Habit</text>
<path d="M15.5 64V73" stroke="#8a00ee" stroke-width=".7"/>
<use href="#i-clear" x="180" y="68.3"/>
<g transform="translate(0,36.7)">
<rect class="sel" x="8" y="55" width="53.5" height="15.3" rx="3"/><use href="#i-check" x="16" y="62.5" color="#f7f7f7"/><text x="24" y="64.7" class="f7 wp">Every day</text>
<rect class="chip" x="65" y="55" width="69" height="15.3" rx="3"/><text x="99.5" y="64.7" class="f7 m g">Every working day</text>
<rect class="chip" x="138" y="55" width="54" height="15.3" rx="3"/><text x="165" y="64.7" class="f7 m g">On weekends</text>
<g class="chip"><rect x="8" y="78.3" width="23.5" height="15.4" rx="3"/><rect x="35" y="78.3" width="23" height="15.4" rx="3"/><rect x="61.5" y="78.3" width="23.5" height="15.4" rx="3"/><rect x="88.5" y="78.3" width="23" height="15.4" rx="3"/><rect x="115" y="78.3" width="23.5" height="15.4" rx="3"/><rect x="142" y="78.3" width="23" height="15.4" rx="3"/><rect x="168.5" y="78.3" width="23.5" height="15.4" rx="3"/></g>
<g class="f7 m g"><text x="19.7" y="88">Mon</text><text x="46.5" y="88">Tue</text><text x="73.2" y="88">Wed</text><text x="100" y="88">Thu</text><text x="126.7" y="88">Fri</text><text x="153.5" y="88">Sat</text><text x="180.2" y="88">Sun</text></g>
<text x="8" y="122.7" class="f8 g">Times per day</text>
<rect class="chip" x="114" y="111" width="78" height="19" rx="9.5"/><path d="M140 111V130M166 111V130" stroke="#a8a4ac" stroke-width=".8"/>
<path d="M125 121h4" stroke="#c6c2ca"/><text x="153" y="123.2" class="f7 m">1</text><path d="M177.5 120.7h3M179 119.2v3" stroke="#1d1b20" stroke-width=".7"/>
<rect class="card" x="8" y="147.3" width="184" height="92.4" rx="13"/>
<text x="19.5" y="166.7" class="f8 g">Add alarm</text>
<rect x="160" y="155.3" width="25" height="14.5" rx="7.2" fill="#ede7f2" stroke="#79747e"/><circle cx="167.5" cy="162.5" r="3.8" fill="#79747e"/>
<rect x="19.5" y="187.3" width="75" height="34.4" rx="3" fill="#f7f7f7"/>
<text x="56" y="211.7" class="f19 m">08</text>
<circle cx="100" cy="200" r="1.3" fill="#1d1b20"/><circle cx="100" cy="212" r="1.3" fill="#1d1b20"/>
<rect x="105.5" y="187.3" width="75" height="34.4" rx="3" fill="#f7f7f7"/><text x="143" y="211.7" class="f19 m">00</text>
<text x="20" y="230.7" class="f5 g">Hour</text><text x="105.5" y="230.7" class="f5 g">Minute</text>
<rect class="sel" x="8" y="251.7" width="184" height="19" rx="9.5"/><use href="#i-plus" x="72" y="261" color="#f7f7f7"/><text x="81" y="263.4" class="f8 wp">Create habbit</text>
</g>
<rect class="sel" x="109" y="318" width="31" height="34.7" rx="6"/>
<use href="#i-chart" x="26.5" y="330" color="#49454f"/><use href="#i-home" x="76" y="330" color="#49454f"/><use href="#i-plus" x="124.5" y="330" color="#f7f7f7"/><use href="#i-gear" x="173.5" y="330" color="#49454f"/>
<g class="f6 m"><text x="26.5" y="344.7" class="g">Charts</text><text x="76" y="344.7" class="g">Today</text><text x="124.5" y="344.7" class="wp">Create</text><text x="173.5" y="344.7" class="g">Settings</text></g>
</g>

<g id="connectors">
<path class="conn" d="M262 503H404"/>
<path class="conn" d="M540 503H614"/>
<path class="conn" d="M472.5 436V160Q472.5 154 478.5 154H1298.6Q1304.6 154 1304.6 160V199"/>
<path class="conn" d="M823 529H914"/>
<path class="conn" d="M1114 529H1205"/>
<path class="conn" d="M1404 529H1546"/>
<path class="conn" d="M1615.5 462V386"/>
<path class="conn" d="M1616 288V160Q1616 154 1622 154H1868.5Q1874.5 154 1874.5 160V194"/>
<path class="conn" d="M1684 529H1757"/>
<path class="conn" d="M1801.5 555V839Q1801.5 845 1795.5 845H1162Q1156 845 1156 851V1046.7Q1156 1052.7 1162 1052.7H1203"/>
<path class="conn" d="M1899 555V895.7Q1899 901.7 1905 901.7H2022"/>
<path class="conn" d="M2023 965H1952Q1946 965 1946 971V1430Q1946 1436 1952 1436H2023"/>
<path class="conn" d="M2222 1021.7H2312"/>
<path class="conn" d="M2454 929H2599"/>
<path class="conn" d="M2222 534H2362"/>

<rect class="pill" x="308" y="494" width="47" height="18" rx="7"/><text class="pt" x="331.5" y="505.4">Click Here</text>
<rect class="pill" x="564" y="494" width="26" height="18" rx="8"/><text class="pt" x="577" y="505.4">Yes</text>
<rect class="pill" x="460" y="395" width="24" height="17" rx="8"/><text class="pt" x="472" y="405.9">No</text>
<rect class="pill" x="846" y="520" width="47" height="18" rx="7"/><text class="pt" x="869.5" y="531.4">Click Here</text>
<rect class="pill" x="1137" y="520" width="46" height="18" rx="7"/><text class="pt" x="1160" y="531.4">Click Here</text>
<rect class="pill" x="1452" y="520" width="46" height="18" rx="7"/><text class="pt" x="1475" y="531.4">Click Here</text>
<rect class="pill" x="1603" y="416" width="26" height="18" rx="8"/><text class="pt" x="1616" y="427.4">Yes</text>
<rect class="pill" x="1709" y="520" width="24" height="18" rx="8"/><text class="pt" x="1721" y="531.4">No</text>
<rect class="pill" x="1779" y="627" width="47" height="18" rx="7"/><text class="pt" x="1802.5" y="638.4">Click Here</text>
<rect class="pill" x="1938" y="893" width="45" height="18" rx="7"/><text class="pt" x="1960.5" y="904.4">Click Here</text>
<rect class="pill" x="1927" y="1192" width="45" height="18" rx="7"/><text class="pt" x="1949.5" y="1203.4">Click Here</text>
<rect class="pill" x="2244" y="1013" width="47" height="18" rx="7"/><text class="pt" x="2267.5" y="1024.4">Click Here</text>
<rect class="pill" x="2504" y="920" width="46" height="18" rx="7"/><text class="pt" x="2527" y="931.4">Click Here</text>
<rect class="pill" x="2268" y="526" width="47" height="18" rx="7"/><text class="pt" x="2291.5" y="537.4">Click Here</text>

<g id="hotspots">
<circle class="halo" cx="261" cy="503" r="9.5"/><circle cx="261" cy="503" r="5" fill="#8a00ee"/><circle cx="261" cy="503" r="3" fill="#f7f7f7"/>
<circle class="halo" cx="823" cy="529" r="9.5"/><circle cx="823" cy="529" r="5" fill="#8a00ee"/><circle cx="823" cy="529" r="3" fill="#f7f7f7"/>
<circle class="halo" cx="1114" cy="529" r="9.5"/><circle cx="1114" cy="529" r="5" fill="#8a00ee"/><circle cx="1114" cy="529" r="3" fill="#f7f7f7"/>
<path class="halo" d="M1404.6 519.5A9.5 9.5 0 0 1 1404.6 538.5Z"/><path d="M1404.6 524A5 5 0 0 1 1404.6 534Z" fill="#8a00ee"/><path d="M1404.6 526A3 3 0 0 1 1404.6 532Z" fill="#f7f7f7"/>
<path class="halo" d="M1792 553.7A9.5 9.5 0 0 0 1811 553.7Z"/><path d="M1796.5 553.7A5 5 0 0 0 1806.5 553.7Z" fill="#8a00ee"/><path d="M1798.5 553.7A3 3 0 0 0 1804.5 553.7Z" fill="#f7f7f7"/>
<path class="halo" d="M1889.5 553.7A9.5 9.5 0 0 0 1908.5 553.7Z"/><path d="M1894 553.7A5 5 0 0 0 1904 553.7Z" fill="#8a00ee"/><path d="M1896 553.7A3 3 0 0 0 1902 553.7Z" fill="#f7f7f7"/>
<path class="halo" d="M2222.6 524.5A9.5 9.5 0 0 1 2222.6 543.5Z"/><path d="M2222.6 529A5 5 0 0 1 2222.6 539Z" fill="#8a00ee"/><path d="M2222.6 531A3 3 0 0 1 2222.6 537Z" fill="#f7f7f7"/>
<circle class="halo" cx="2023" cy="965" r="9.5"/><circle cx="2023" cy="965" r="5" fill="#8a00ee"/><circle cx="2023" cy="965" r="3" fill="#f7f7f7"/>
<circle class="halo" cx="2222" cy="1021.7" r="9.5"/><circle cx="2222" cy="1021.7" r="5" fill="#8a00ee"/><circle cx="2222" cy="1021.7" r="3" fill="#f7f7f7"/>
<circle class="halo" cx="2454" cy="929" r="9.5"/><circle cx="2454" cy="929" r="5" fill="#8a00ee"/><circle cx="2454" cy="929" r="3" fill="#f7f7f7"/>
</g>
</g>
</svg>
